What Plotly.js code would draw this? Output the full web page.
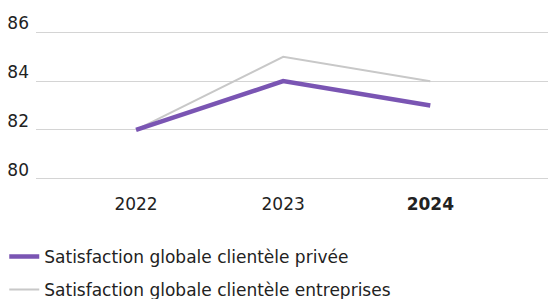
<!DOCTYPE html>
<html><head><meta charset="utf-8">
<script src="https://cdn.plot.ly/plotly-3.0.1.min.js"></script>
<style>html,body{margin:0;padding:0;background:#fff}#c{width:548px;height:299px}</style>
</head><body><div id="c"></div>
<script>
const years = ['2022', '2023', '2024'];
const tickLabels = ['2022', '2023', '<b>2024</b>'];
const yTicks = [80, 82, 84, 86];
const prive = [82, 84, 83];
const entreprises = [82, 85, 84];
const names = ['Satisfaction globale clientèle privée', 'Satisfaction globale clientèle entreprises'];

const traces = [
  {x: years, y: entreprises, type: 'scatter', mode: 'lines', name: names[1],
   line: {color: '#c8c8c8', width: 2}, legendrank: 2, legendgroup: 'b'},
  {x: years, y: prive, type: 'scatter', mode: 'lines', name: names[0],
   line: {color: '#7a55b3', width: 4.5}, legendrank: 1, legendgroup: 'a'}
];
const layout = {
  width: 548, height: 299,
  margin: {l: 36, r: 0, t: 29.56, b: 118.06, autoexpand: false},
  paper_bgcolor: '#fff', plot_bgcolor: '#fff',
  font: {family: 'DejaVu Sans, sans-serif', size: 17, color: '#222'},
  showlegend: true,
  legend: {orientation: 'v', x: -0.062, xanchor: 'left', y: -0.383, yanchor: 'top',
           traceorder: 'grouped', tracegroupgap: 8, font: {size: 17, color: '#222'}},
  xaxis: {type: 'category', range: [-0.68, 2.8], tickvals: years, ticktext: tickLabels,
          showgrid: false, zeroline: false, showline: false, ticks: '', ticklabelstandoff: 11},
  yaxis: {range: [79.9, 86.1], tickvals: yTicks, showgrid: true, gridcolor: '#d4d4d4',
          gridwidth: 1, zeroline: false, showline: false, ticks: '', ticklabelshift: -9, ticklabelstandoff: 6}
};
Plotly.newPlot('c', traces, layout, {displayModeBar: false, staticPlot: true});
</script></body></html>
